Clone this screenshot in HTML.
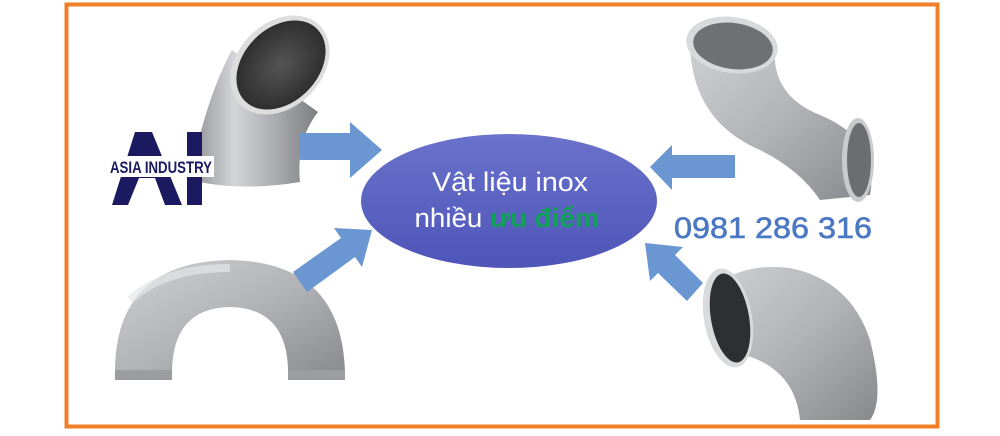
<!DOCTYPE html>
<html><head><meta charset="utf-8"><style>
html,body{margin:0;padding:0;background:#fff;width:1000px;height:436px;overflow:hidden}
svg{display:block}
</style></head><body>
<svg width="1000" height="436" viewBox="0 0 1000 436" xmlns="http://www.w3.org/2000/svg">
<defs>
<linearGradient id="met" x1="0" y1="0" x2="1" y2="0">
<stop offset="0" stop-color="#8e8f92"/><stop offset="0.35" stop-color="#d4d5d8"/><stop offset="0.6" stop-color="#b3b4b7"/><stop offset="1" stop-color="#7d7e81"/></linearGradient>
<linearGradient id="met2" x1="0" y1="0" x2="1" y2="1">
<stop offset="0" stop-color="#cfd0d3"/><stop offset="0.5" stop-color="#b2b3b6"/><stop offset="1" stop-color="#88898c"/></linearGradient>
<radialGradient id="hole"><stop offset="0" stop-color="#555"/><stop offset="1" stop-color="#2f2f30"/></radialGradient>
<linearGradient id="ell" x1="0" y1="0" x2="0" y2="1"><stop offset="0" stop-color="#6a72cc"/><stop offset="1" stop-color="#4e55b8"/></linearGradient>
</defs>
<rect x="66.5" y="4.5" width="871" height="422" fill="none" stroke="#f07f2a" stroke-width="4"/>

<!-- top-left 45 elbow -->
<path d="M232,50 Q205,100 190,180 Q240,192 300,182 Q296,140 318,112 Z" fill="url(#met)"/>
<ellipse cx="280" cy="65" rx="42" ry="56" transform="rotate(45 280 65)" fill="#ddd"/>
<ellipse cx="281" cy="65" rx="37" ry="51" transform="rotate(45 281 65)" fill="url(#hole)"/>

<!-- logo -->
<path d="M135,132 L152,132 L182,205 L165,205 L155,178 L139,178 L128,205 L112,205 Z" fill="#1b1a60"/>
<rect x="187" y="132" width="15" height="73" fill="#1b1a60"/>
<rect x="106" y="156" width="108" height="21" fill="#fff"/>
<text x="110" y="173" font-family="Liberation Sans, sans-serif" font-weight="bold" font-size="17" fill="#1b1a60" textLength="102" lengthAdjust="spacingAndGlyphs">ASIA INDUSTRY</text>

<!-- U bend -->
<path d="M115,378 Q112,262 230,260 Q345,262 345,378 L288,378 Q290,308 230,307 Q170,308 172,378 Z" fill="url(#met2)"/>
<path d="M130,300 Q165,268 230,268" stroke="#e4e5e7" stroke-width="8" fill="none" opacity="0.7"/>
<rect x="115" y="370" width="57" height="10" fill="#9c9da0"/><rect x="288" y="370" width="57" height="10" fill="#9c9da0"/>

<!-- top-right elbow -->
<path d="M690,40 Q690,120 760,150 Q800,170 820,200 L870,195 Q880,140 820,115 Q770,95 775,45 Z" fill="url(#met2)"/>
<ellipse cx="732" cy="45" rx="46" ry="28" transform="rotate(8 732 45)" fill="#d8d9db"/>
<ellipse cx="733" cy="46" rx="40" ry="23" transform="rotate(8 733 46)" fill="#6f7072"/>
<ellipse cx="858" cy="160" rx="16" ry="42" fill="#c9cacc"/>
<ellipse cx="859" cy="160" rx="12" ry="37" fill="#6c6d70"/>

<!-- bottom-right elbow -->
<path d="M710,290 Q740,262 790,268 Q850,280 870,340 Q885,400 870,420 L800,420 Q795,370 745,355 Q710,340 710,290 Z" fill="url(#met2)"/>
<ellipse cx="728" cy="318" rx="24" ry="50" transform="rotate(-10 728 318)" fill="#d9dadc"/>
<ellipse cx="730" cy="318" rx="19" ry="45" transform="rotate(-10 730 318)" fill="#2e2f31"/>

<!-- arrows -->
<g fill="#6a97d2">
<path d="M300,133 L350,133 L350,122 L382,150 L350,178 L350,160 L300,160 Z"/>
<path d="M293,272 L341,238 L334,228 L372,230 L362,267 L355,257 L307,292 Z"/>
<path d="M735,155 L672,155 L672,145 L650,167 L672,190 L672,178 L735,178 Z"/>
<path d="M703,283 L675,255 L683,247 L645,243 L650,281 L658,273 L687,301 Z"/>
</g>

<!-- ellipse -->
<ellipse cx="509" cy="201" rx="148" ry="67" fill="url(#ell)"/>
<text x="510" y="191" text-anchor="middle" font-family="Liberation Sans, sans-serif" font-size="27" fill="#fff" textLength="156" lengthAdjust="spacingAndGlyphs">Vật liệu inox</text>
<text x="507" y="227" text-anchor="middle" font-family="Liberation Sans, sans-serif" font-size="27" fill="#fff" textLength="185" lengthAdjust="spacingAndGlyphs">nhiều <tspan fill="#12a05a" font-weight="bold">ưu điểm</tspan></text>

<!-- phone -->
<text x="674" y="238" font-family="Liberation Sans, sans-serif" font-size="30" fill="#4b78c2" stroke="#4b78c2" stroke-width="0.6" textLength="198" lengthAdjust="spacingAndGlyphs">0981 286 316</text>
</svg>
</body></html>
